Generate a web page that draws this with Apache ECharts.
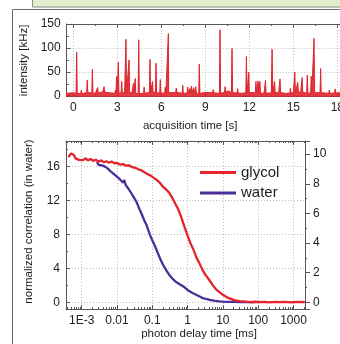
<!DOCTYPE html>
<html><head><meta charset="utf-8">
<script src="https://cdn.jsdelivr.net/npm/echarts@6/dist/echarts.min.js"></script>
<style>html,body{margin:0;padding:0;background:#fff}#c{width:340px;height:344px}</style>
</head><body><div id="c"></div>
<script>
// ---------------- data ----------------
// top panel: intensity trace, baseline sampled every 0.5 s starting at -0.5 s
const traceBaseStart = -0.5;
const traceBaseStep = 0.5;
const traceBase = [5,6,4,7,5,8,6,5,7,6,4,6,8,5,6,7,5,6,4,7,6,5,8,6,5,7,6,5,6,7,5,6,8,5,7,6,5,6,7,5,6,5];
// burst spikes: acquisition time [s] and intensity [kHz]
const spikeTimes   = [0.23,0.55,0.95,1.3,1.66,2.1,2.5,2.88,2.95,3.07,3.3,3.59,3.8,4.1,4.22,4.46,4.83,5.23,5.4,5.64,5.93,6.27,6.48,6.7,7.02,7.46,7.8,7.95,8.05,8.2,8.35,8.59,8.98,9.54,10.0,10.35,10.55,10.82,11.2,11.5,11.8,11.96,12.45,12.6,12.72,13.1,13.55,13.72,14.09,14.5,14.8,15.1,15.3,15.6,15.95,16.22,16.41,16.86,17.45,17.85,18.5];
const spikeHeights = [91,12,33,55,17,19,8,12,40,70,30,118,75,26,36,117,18,76,30,68,34,18,130,10,16,22,18,15,20,17,19,66,10,13,138,19,10,99,15,8,82,49,30,31,30,32,97,30,35,9,16,49,28,38,43,41,120,57,12,14,10];
const traceTicks = [0,3,6,9,12,15,18];

// bottom panel: correlation curves
const glycolDelay = [0.00042,0.00045,0.0005,0.00055,0.0006,0.00068,0.00075,0.00085,0.00095,0.0011,0.0013,0.0015,0.0018,0.0021,0.0025,0.003,0.0036,0.0043,0.005,0.006,0.007,0.0085,0.01,0.012,0.015,0.018,0.022,0.027,0.033,0.04,0.05,0.06,0.075,0.09,0.11,0.13,0.16,0.2,0.25,0.3,0.37,0.45,0.55,0.65,0.8,1.0,1.2,1.5,1.8,2.2,2.7,3.3,4.0,5.0,6.5,8,10,13,17,22,30,45,60,80,110,150,200,300,400,600,800,1000,1400,2100];
const glycolCorr  = [9.8,9.9,10.05,10.15,9.95,9.7,9.8,9.62,9.75,9.6,9.72,9.58,9.68,9.55,9.62,9.5,9.58,9.45,9.52,9.42,9.5,9.38,9.42,9.3,9.33,9.22,9.25,9.12,9.08,8.98,8.9,8.78,8.65,8.55,8.4,8.28,8.1,7.8,7.6,7.4,7.05,6.65,6.25,5.8,5.15,4.5,4.0,3.5,3.0,2.6,2.15,1.8,1.55,1.2,0.85,0.68,0.5,0.33,0.22,0.12,0.07,0.04,0.01,0.03,0.0,0.02,-0.01,0.02,0.0,0.02,-0.01,0.01,0.02,0.0];
const waterDelay = [0.0027,0.003,0.0034,0.004,0.0047,0.0055,0.0065,0.0075,0.009,0.011,0.013,0.015,0.016,0.018,0.021,0.025,0.03,0.036,0.043,0.05,0.06,0.07,0.085,0.1,0.12,0.145,0.17,0.2,0.25,0.3,0.37,0.45,0.55,0.7,0.85,1.0,1.3,1.8,2.5,3.3,4.3,6,8,10,15,22,30,45,60,80];
const waterCorr  = [16.5,16.2,16.35,16.1,15.95,15.75,15.45,15.25,14.95,14.65,14.35,14.1,14.4,13.75,13.4,12.9,12.35,11.8,11.0,10.4,9.6,9.0,8.0,7.3,6.6,5.75,5.05,4.45,3.75,3.25,2.8,2.45,2.2,1.95,1.7,1.45,1.15,0.86,0.55,0.38,0.27,0.15,0.1,0.07,0.03,0.04,0.0,0.02,0.0,0.01];
const seriesNames = ['glycol','water'];

// ---------------- build ----------------
function baseAt(t){
  const f = (t - traceBaseStart) / traceBaseStep;
  const i = Math.max(0, Math.min(traceBase.length - 2, Math.floor(f)));
  const r = f - i;
  return traceBase[i] * (1 - r) + traceBase[i + 1] * r;
}
const tracePts = traceBase.map((v, i) => [traceBaseStart + i * traceBaseStep, v]);
spikeTimes.forEach((t, i) => {
  const b = baseAt(t);
  tracePts.push([t - 0.04, b], [t, spikeHeights[i]], [t + 0.04, b]);
});
tracePts.sort((a, b) => a[0] - b[0]);

const FONT = 'Liberation Sans, Arial, sans-serif';
const AX = '#555';
const TXT = '#222';
const lbl = {color: TXT, fontSize: 12, fontFamily: FONT};
const nameStyle = {color: TXT, fontSize: 11.5, fontFamily: FONT};
const gridLine = {show: true, lineStyle: {color: '#bdbdbd', type: [1, 2], width: 1}};
const aLine = {show: true, onZero: false, lineStyle: {color: AX, width: 1}};
const tickIn = {show: true, inside: true, length: 4, lineStyle: {color: AX}};
const minor = n => ({show: true, splitNumber: n, length: 2, lineStyle: {color: AX}});
const logFmt = v => { const e = Math.round(Math.log10(v)); return e <= -3 ? '1E' + e : (e < 0 ? Math.pow(10, e).toFixed(-e) : String(Math.round(Math.pow(10, e)))); };

const chart = echarts.init(document.getElementById('c'), null, {renderer: 'canvas'});
chart.setOption({
  animation: false,
  backgroundColor: '#fff',
  graphic: [
    {type: 'rect', silent: true, shape: {x: 32.5, y: -3, width: 320, height: 10}, style: {fill: '#e3eecd', stroke: '#8c8c8c', lineWidth: 1}},
    {type: 'polyline', silent: true, shape: {points: [[12.5, 350], [12.5, 9.5], [345, 9.5]]}, style: {stroke: '#6a6a6a', lineWidth: 1, fill: null}}
  ],
  grid: [
    {left: 66.7, top: 24, width: 300, height: 72.7, outerBoundsMode: 'none', containLabel: false},
    {left: 66, top: 141, width: 239, height: 168, outerBoundsMode: 'none', containLabel: false}
  ],
  legend: {
    data: seriesNames, orient: 'vertical', left: 195, top: 160, icon: 'rect',
    itemWidth: 36, itemHeight: 3, itemGap: 5.5, selectedMode: false,
    textStyle: {fontSize: 15, color: TXT, fontFamily: FONT}
  },
  xAxis: [
    {gridIndex: 0, type: 'value', position: 'bottom', min: -0.45, max: 20, minInterval: 3, maxInterval: 3, splitNumber: 7,
     axisLine: aLine, axisTick: tickIn, minorTick: minor(2),
     axisLabel: Object.assign({margin: 5, showMinLabel: false, showMaxLabel: false}, lbl),
     splitLine: gridLine,
     name: 'acquisition time [s]', nameLocation: 'middle', nameGap: 23,
     nameTextStyle: Object.assign({padding: [0, 53, 0, 0]}, nameStyle)},
    {gridIndex: 0, type: 'value', position: 'top', min: -0.45, max: 20, minInterval: 3, maxInterval: 3, splitNumber: 7,
     axisLine: aLine, axisTick: tickIn, minorTick: minor(2), axisLabel: {show: false}, splitLine: {show: false}},
    {gridIndex: 1, type: 'log', logBase: 10, position: 'bottom', min: 0.00036, max: 2120, splitNumber: 5,
     axisLine: aLine, axisTick: tickIn, minorTick: minor(9),
     axisLabel: Object.assign({margin: 6, showMinLabel: false, showMaxLabel: false, formatter: logFmt}, lbl),
     splitLine: gridLine,
     name: 'photon delay time [ms]', nameLocation: 'middle', nameGap: 18,
     nameTextStyle: Object.assign({padding: [0, 0, 0, 27]}, nameStyle)},
    {gridIndex: 1, type: 'log', logBase: 10, position: 'top', min: 0.00036, max: 2120, splitNumber: 5,
     axisLine: aLine, axisTick: tickIn, minorTick: minor(9), axisLabel: {show: false}, splitLine: {show: false}}
  ],
  yAxis: [
    {gridIndex: 0, type: 'value', position: 'left', min: -2, max: 150, minInterval: 50, maxInterval: 50, splitNumber: 3,
     axisLine: aLine, axisTick: tickIn, minorTick: minor(2),
     axisLabel: Object.assign({margin: 6, showMinLabel: false}, lbl),
     splitLine: gridLine,
     name: 'intensity [kHz]', nameLocation: 'middle', nameGap: 33, nameTextStyle: nameStyle},
    {gridIndex: 1, type: 'value', position: 'left', min: -0.8, max: 19, minInterval: 4, maxInterval: 4, splitNumber: 5,
     axisLine: aLine, axisTick: tickIn, minorTick: minor(2),
     axisLabel: Object.assign({margin: 6, showMinLabel: false, showMaxLabel: false}, lbl),
     splitLine: gridLine,
     name: 'normalized correlation (in water)', nameLocation: 'middle', nameGap: 31,
     nameTextStyle: Object.assign({padding: [0, 0, 0, 7]}, nameStyle)},
    {gridIndex: 1, type: 'value', position: 'right', min: -0.46, max: 10.89, minInterval: 2, maxInterval: 2, splitNumber: 5,
     axisLine: aLine, axisTick: {show: true, inside: false, length: 5, lineStyle: {color: AX}}, minorTick: minor(2),
     axisLabel: Object.assign({margin: 8, showMinLabel: false, showMaxLabel: false}, lbl),
     splitLine: {show: false}}
  ],
  series: [
    {type: 'line', xAxisIndex: 0, yAxisIndex: 0, data: tracePts, showSymbol: false, symbol: 'none',
     lineStyle: {color: '#e0242c', width: 1}, areaStyle: {color: '#e0242c', opacity: 0.9, origin: 'start'}, z: 3},
    {name: 'water', type: 'line', xAxisIndex: 2, yAxisIndex: 1, data: waterDelay.map((t, i) => [t, waterCorr[i]]),
     showSymbol: false, symbol: 'none', color: '#4b2f99', lineStyle: {color: '#4b2f99', width: 2.3}, z: 3},
    {name: 'glycol', type: 'line', xAxisIndex: 2, yAxisIndex: 2, data: glycolDelay.map((t, i) => [t, glycolCorr[i]]),
     showSymbol: false, symbol: 'none', color: '#e3242b', lineStyle: {color: '#e3242b', width: 2.3}, z: 4}
  ]
});
</script></body></html>
